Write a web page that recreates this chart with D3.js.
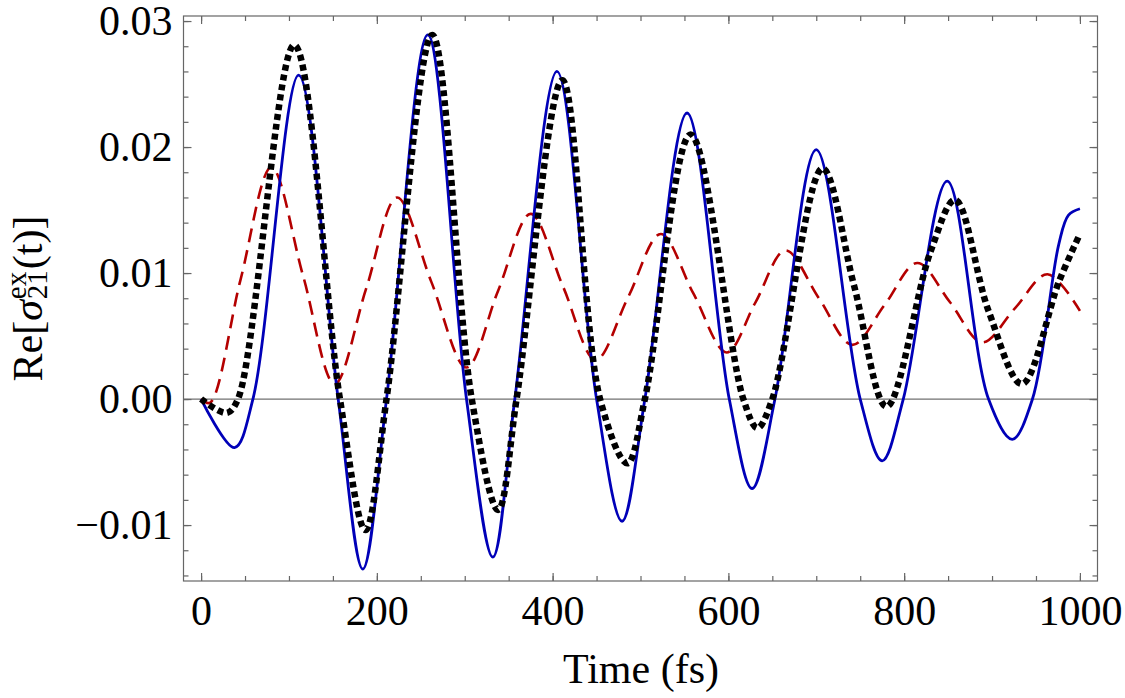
<!DOCTYPE html>
<html>
<head>
<meta charset="utf-8">
<script src="https://cdn.jsdelivr.net/npm/d3@7"></script>
<style>
  body { margin: 0; background: #fff; }
  text { font-family: "Liberation Serif", "Times New Roman", serif; }
</style>
</head>
<body>
<div id="chart"></div>
<script>
"use strict";

// blue solid curve
const blueTime = [0, 38, 59, 111, 156, 184, 211, 258, 302, 332, 357, 405, 450, 479, 505, 553, 601, 627, 653, 700, 750, 775, 799, 849, 896, 923, 946, 976, 987, 1000];
const blueValue = [0, -0.00385, 0, 0.0257, 0, -0.0135, 0, 0.0289, 0, -0.01255, 0, 0.0260, 0, -0.0097, 0, 0.0227, 0, -0.0071, 0, 0.0198, 0, -0.0049, 0, 0.0173, 0, -0.0032, 0, 0.0123, 0.0146, 0.0151];

// black dotted curve
const blackTime = [0, 29, 42, 106, 158, 187, 211, 263, 308, 338, 359, 411, 454, 485, 505, 557, 617, 633, 650, 707, 743, 780, 830, 858, 896, 934, 976, 1000];
const blackValue = [0, -0.0011, 0, 0.0281, 0, -0.0104, 0, 0.0289, 0, -0.0088, 0, 0.0253, 0, -0.0051, 0, 0.0210, 0, -0.0023, 0, 0.0183, 0.0090, -0.0006, 0.0117, 0.0158, 0.0070, 0.0012, 0.0093, 0.0131];

// red dashed curve
const redTime = [0, 10, 45, 80, 116, 152, 188, 223, 262, 302, 338, 375, 412, 449, 486, 523, 560, 598, 631, 665, 703, 741, 778, 815, 852, 889, 926, 963, 1000];
const redValue = [0, -0.0003, 0.0095, 0.0184, 0.0098, 0.0012, 0.0088, 0.0160, 0.0093, 0.0025, 0.0086, 0.0147, 0.0089, 0.0031, 0.0081, 0.0131, 0.0084, 0.0037, 0.0077, 0.0118, 0.0080, 0.0043, 0.0075, 0.0108, 0.0077, 0.0045, 0.0072, 0.0099, 0.0070];

const xTicks = [0, 200, 400, 600, 800, 1000];
const xTickLabels = ["0", "200", "400", "600", "800", "1000"];
const yTicks = [-0.01, 0, 0.01, 0.02, 0.03];
const yTickLabels = ["\u22120.01", "0.00", "0.01", "0.02", "0.03"];

const msm = {
    width: 1125,
    height: 698,
    left: 183.5,
    right: 1097.5,
    top: 16,
    bottom: 581
};

let svg = d3.select("#chart").append("svg")
    .attr("width", msm.width)
    .attr("height", msm.height);

let xScale = d3.scaleLinear()
    .domain([-20, 1020])
    .range([msm.left, msm.right]);

let yScale = d3.scaleLinear()
    .domain([-0.01444, 0.0304])
    .range([msm.bottom, msm.top]);

// zero line
svg.append("line")
    .attr("x1", msm.left).attr("x2", msm.right)
    .attr("y1", yScale(0)).attr("y2", yScale(0))
    .attr("stroke", "#707070")
    .attr("stroke-width", 1.2);

// ticks, all pointing inward
function styleAxis(g) {
    g.select(".domain").remove();
    g.selectAll(".tick line").attr("stroke", "#666").attr("stroke-width", 1.2);
    g.selectAll(".tick text").attr("fill", "#000").style("font-size", "42px")
        .style("font-family", '"Liberation Serif", "Times New Roman", serif');
}

let xMinor = d3.range(0, 1001, 50);
let yMinor = d3.range(-14, 31, 2).map(d => d / 1000);

svg.append("g").attr("transform", `translate(0,${msm.bottom})`)
    .call(d3.axisBottom(xScale).tickValues(xMinor).tickSize(-5).tickFormat("")).call(styleAxis);
svg.append("g").attr("transform", `translate(0,${msm.bottom})`)
    .call(d3.axisBottom(xScale).tickValues(xTicks).tickSize(-8).tickPadding(14)
        .tickFormat((d, i) => xTickLabels[i])).call(styleAxis);
svg.append("g").attr("transform", `translate(0,${msm.top})`)
    .call(d3.axisTop(xScale).tickValues(xMinor).tickSize(-5).tickFormat("")).call(styleAxis);
svg.append("g").attr("transform", `translate(0,${msm.top})`)
    .call(d3.axisTop(xScale).tickValues(xTicks).tickSize(-8).tickFormat("")).call(styleAxis);

svg.append("g").attr("transform", `translate(${msm.left},0)`)
    .call(d3.axisLeft(yScale).tickValues(yMinor).tickSize(-5).tickFormat("")).call(styleAxis);
svg.append("g").attr("transform", `translate(${msm.left},0)`)
    .call(d3.axisLeft(yScale).tickValues(yTicks).tickSize(-8).tickPadding(11)
        .tickFormat((d, i) => yTickLabels[i])).call(styleAxis);
svg.append("g").attr("transform", `translate(${msm.right},0)`)
    .call(d3.axisRight(yScale).tickValues(yMinor).tickSize(-5).tickFormat("")).call(styleAxis);
svg.append("g").attr("transform", `translate(${msm.right},0)`)
    .call(d3.axisRight(yScale).tickValues(yTicks).tickSize(-8).tickFormat("")).call(styleAxis);

// frame
svg.append("rect")
    .attr("x", msm.left).attr("y", msm.top)
    .attr("width", msm.right - msm.left).attr("height", msm.bottom - msm.top)
    .attr("fill", "none").attr("stroke", "#666").attr("stroke-width", 1.2);

// curves
let line = d3.line()
    .x(d => xScale(d[0]))
    .y(d => yScale(d[1]))
    .curve(d3.curveCatmullRom.alpha(0.5));

let redData = redTime.map((t, i) => [t, redValue[i]]);
let blueData = blueTime.map((t, i) => [t, blueValue[i]]);
let blackData = blackTime.map((t, i) => [t, blackValue[i]]);

svg.append("path").datum(redData)
    .attr("d", line)
    .attr("fill", "none")
    .attr("stroke", "#b40000")
    .attr("stroke-width", 2.6)
    .attr("stroke-dasharray", "14,8");

svg.append("path").datum(blueData)
    .attr("d", line)
    .attr("fill", "none")
    .attr("stroke", "#0000b8")
    .attr("stroke-width", 2.8);

svg.append("path").datum(blackData)
    .attr("d", line)
    .attr("fill", "none")
    .attr("stroke", "#000")
    .attr("stroke-width", 6.5)
    .attr("stroke-dasharray", "6,4");

// x label
svg.append("text")
    .attr("x", 641)
    .attr("y", 683)
    .attr("text-anchor", "middle")
    .style("font-size", "42px")
    .text("Time (fs)");

// y label: Re[σ^ex_21(t)], built piece by piece
let yLab = svg.append("g")
    .attr("transform", `translate(42,${(msm.top + msm.bottom) / 2}) rotate(-90)`);

let pieces = [
    { s: "Re[", size: 42, dy: 0, italic: false },
    { s: "\u03c3", size: 42, dy: 0, italic: true },
    { s: "ex", size: 29, dy: -16, italic: false, sup: true },
    { s: "21", size: 29, dy: 5, italic: false, sub: true },
    { s: "(t)]", size: 42, dy: 0, italic: false }
];

let cursor = 0;
let supStart = 0, supWidth = 0;
let nodes = [];
pieces.forEach(p => {
    let t = yLab.append("text")
        .attr("y", p.dy)
        .style("font-size", p.size + "px")
        .style("font-style", p.italic ? "italic" : "normal")
        .text(p.s);
    let w = t.node().getComputedTextLength();
    if (p.sup) {
        supStart = cursor + 1;
        supWidth = w;
        t.attr("x", supStart);
    } else if (p.sub) {
        t.attr("x", supStart);
        cursor = supStart + Math.max(w, supWidth) + 1;
    } else {
        t.attr("x", cursor);
        cursor += w;
    }
    nodes.push(t);
});
nodes.forEach(t => t.attr("x", +t.attr("x") - cursor / 2));
</script>
</body>
</html>
